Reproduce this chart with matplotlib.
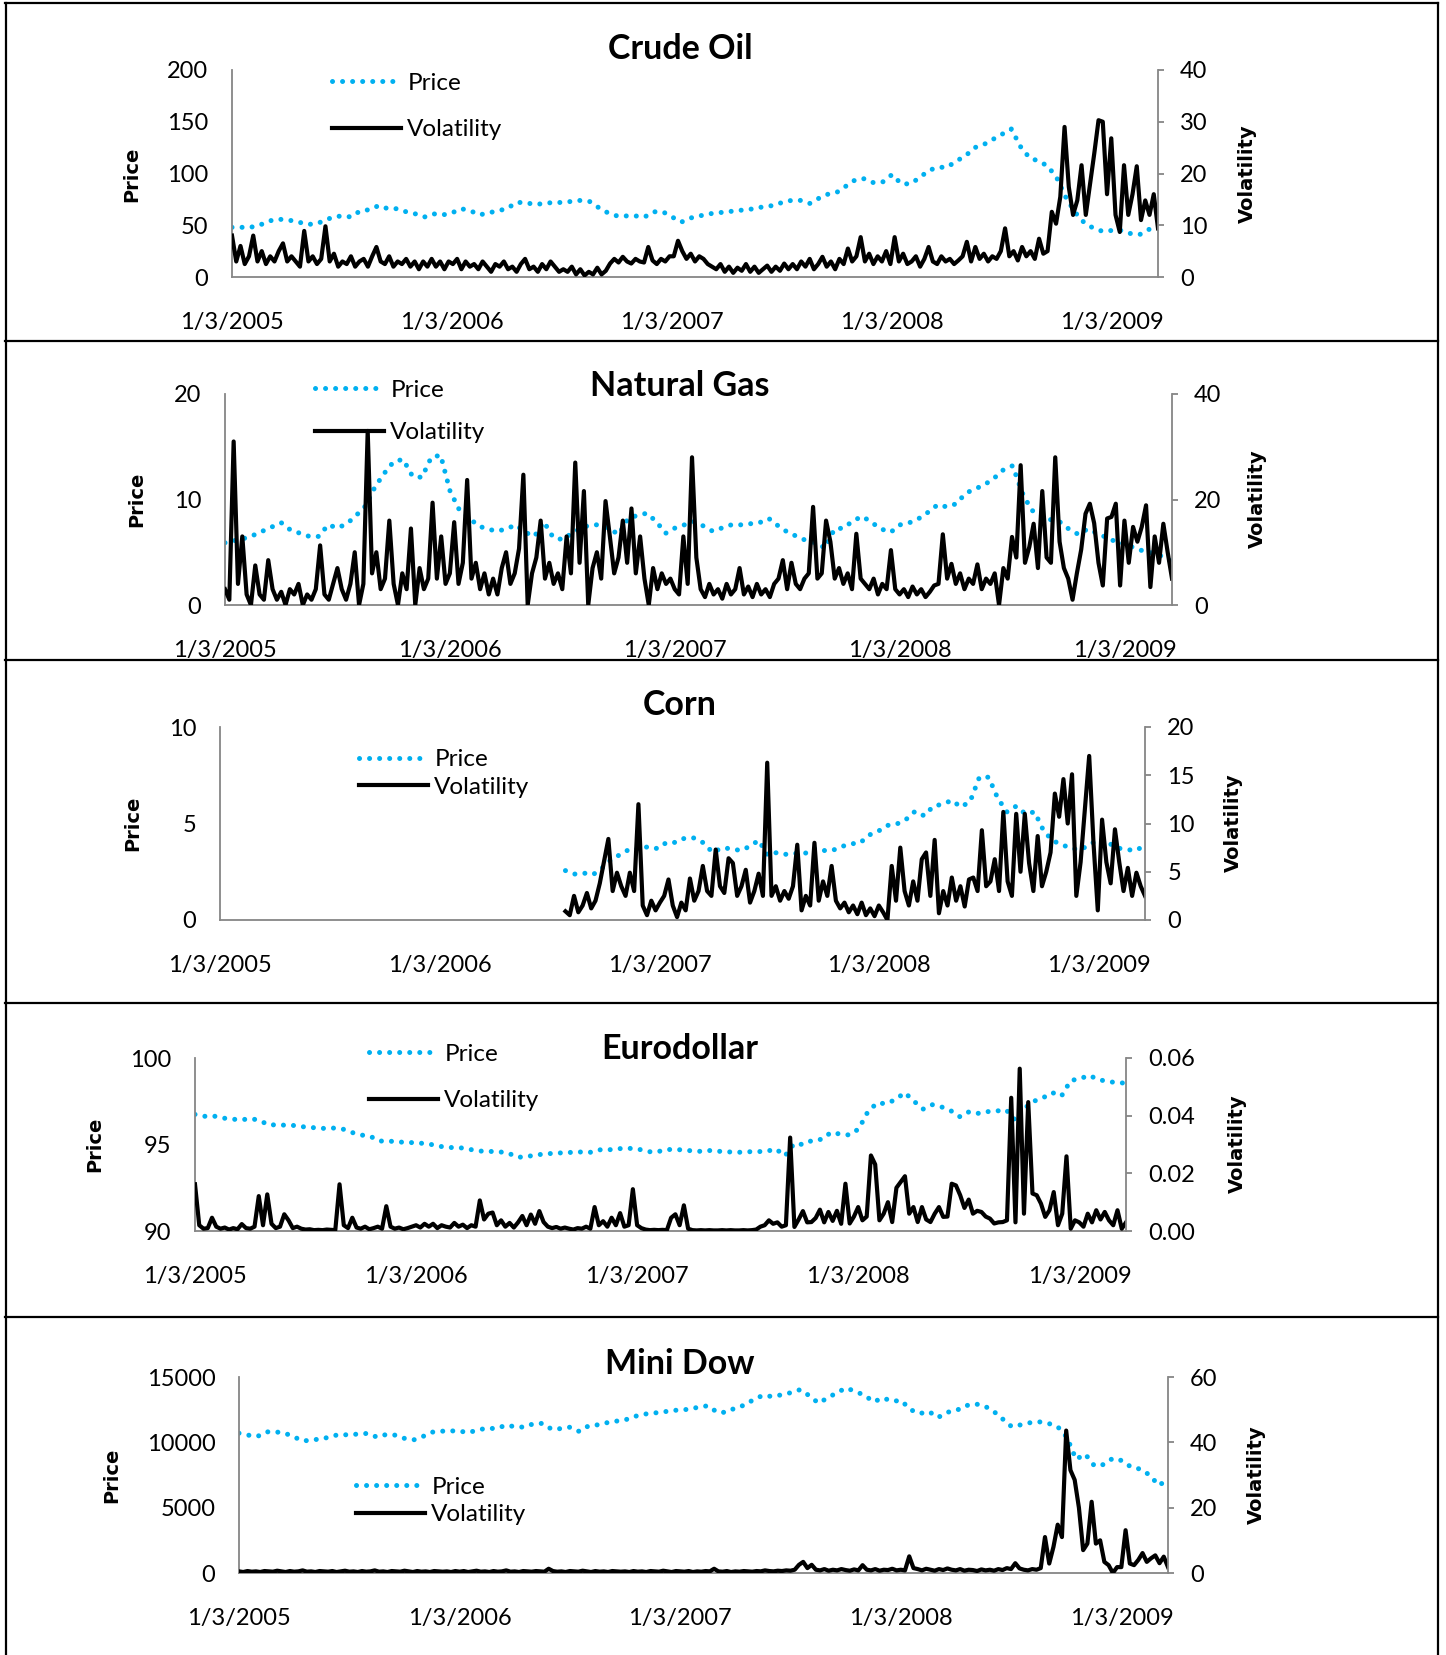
import matplotlib
matplotlib.use("Agg")
import matplotlib.pyplot as plt
import pandas as pd
import numpy as np
from matplotlib.lines import Line2D
import matplotlib.ticker as mticker

plt.rcParams['font.family'] = ['Lato', 'DejaVu Sans']

# ---------------- data ----------------
START, END = '2005-01-03', '2009-03-20'
CORN_START = '2006-07-31'
xtick_dates = ['2005-01-03', '2006-01-03', '2007-01-03', '2008-01-03', '2009-01-03']
xtick_labels = ['1/3/2005', '1/3/2006', '1/3/2007', '1/3/2008', '1/3/2009']

# Crude oil (semi-monthly price, weekly volatility)
crude_price = [48, 48, 48, 50, 54, 56, 55, 54, 51, 51, 54, 58, 59, 58, 64, 65, 69, 66, 66, 63, 61, 58, 61, 60,
               62, 66, 64, 60, 62, 64, 66, 72, 72, 70, 71, 72, 72, 73, 74, 73, 67, 62, 59, 59, 59, 58, 63, 63,
               58, 53, 57, 59, 61, 62, 63, 64, 65, 66, 68, 69, 72, 74, 74, 71, 76, 80, 82, 88, 94, 95, 91, 92,
               99, 90, 90, 96, 103, 106, 106, 112, 117, 125, 128, 133, 138, 143, 126, 115, 112, 107, 95, 76, 62, 52, 47, 44,
               45, 45, 42, 41, 46, 44]
crude_vol = ([8, 3, 6, 2.5, 4, 8, 3, 5, 2.5, 4, 3, 5, 6.5, 3, 4, 3, 2, 8.9, 3, 4, 2.5, 3.5, 9.8, 3, 4.5, 2, 3, 2.5, 4, 2,
              3, 3.5, 2, 4, 5.8, 3, 2.5, 4, 2, 3, 2.5, 3.5, 2, 3, 1.5, 3, 2, 3.5, 2, 3, 1.5, 3] +
             [2.5, 3.5, 1.5, 3, 2, 2.5, 1.5, 3, 2, 1, 2.5, 2, 3, 1.5, 2, 1, 2.5, 3.5, 1.5, 2, 1, 2.5, 1.5, 3, 2, 1,
              1.5, 1, 2, 0.5, 1.5, 0.3, 1, 0.5, 1.8, 0.5, 1.2, 2.6, 3.5, 2.8, 3.9, 3, 2.6, 3.5, 3, 2.8, 5.8, 3.2, 2.5, 3.5, 3, 4] +
             [4, 7, 5, 3.5, 4.5, 3, 4, 3.5, 2.5, 2, 1.5, 2.5, 1, 2, 0.8, 1.8, 1.2, 2.5, 1, 2, 0.8, 1.5, 2.2, 1, 2, 1.2,
              2.6, 1.5, 2.5, 1.5, 3, 2, 3.5, 1.5, 2.5, 3.9, 2, 3, 1.5, 3.5, 2.5, 5.5, 3, 4, 7.7, 3, 4.5, 2.5, 4, 3, 5, 2.5] +
             [7.7, 3, 4.5, 2.5, 3, 4, 2, 3.5, 5.8, 3, 2.5, 4, 3, 3.5, 2.5, 3.2, 4, 6.8, 3, 5.8, 3.5, 4.5, 3, 4, 3.5, 5,
              9.4, 4, 5, 3.2, 5.8, 4, 5, 3.5, 7.4, 4.5, 5, 12.6, 10.3, 15.5, 29, 17.4, 12, 14.8, 21.6, 12, 18, 23.9, 30.3, 30, 16, 26.8] +
             [12, 8.7, 21.6, 12, 16, 21.4, 11, 14.8, 12, 16, 9.4])

# Natural gas
ng_price = ([5.9, 6.1, 6.3, 6.6, 7.0, 7.4, 7.8, 7.1, 6.8, 6.5, 6.5, 7.6, 7.3, 7.7, 8.5, 9.4, 11.2, 12.5, 13.6, 13.8, 12.2, 12.1, 14.0, 14.2] +
            [10.8, 9.0, 8.3, 7.5, 7.2, 7.0, 7.2, 7.6, 6.9, 6.5, 7.9, 6.4, 6.2, 6.8, 7.3, 7.6, 7.6, 7.2, 6.7, 8.2, 8.5, 8.7, 7.9, 6.8] +
            [7.3, 7.6, 7.9, 7.5, 7.0, 7.3, 7.6, 7.6, 7.7, 7.8, 8.2, 7.5, 6.9, 6.5, 6.1, 5.9, 5.4, 7.2, 7.3, 8.0, 8.4, 7.8, 7.2, 6.9] +
            [7.6, 7.8, 8.2, 8.8, 9.5, 9.3, 9.6, 10.6, 11.0, 11.4, 12.0, 12.8, 13.2, 10.7, 9.0, 8.5, 8.1, 7.9, 7.2, 6.7, 7.2, 6.8, 6.4, 6.0] +
            [5.8, 5.4, 5.1, 4.9, 4.6, 4.1])
ng_vol = ([3, 1, 31, 4, 13, 2, 0, 7.5, 2, 1, 8.5, 3, 1, 2.5, 0, 3, 2, 4, 0, 2, 1, 3, 11.3, 2, 1, 4, 7, 3, 1, 4,
           10, 0, 4, 33, 6, 10, 3, 5, 16, 4, 0, 6, 3, 14.5, 0, 7, 3, 5, 19.4, 5, 13, 4] +
          [6, 15.7, 4, 8, 23.7, 5, 8, 3, 6, 2, 5, 2, 7, 10, 4, 6, 10.7, 24.7, 0, 6, 9, 16, 5, 8, 4, 6, 3, 13, 6, 27,
           8, 21.6, 0, 7, 10, 5, 19.7, 13, 6, 9, 16, 8, 18.3, 6, 13, 5, 0, 7, 3, 6, 4, 5] +
          [3, 2, 13, 4, 28, 9, 3, 1.5, 4, 2, 3, 1.2, 4, 2, 3, 7, 2, 3.5, 1.5, 4, 2, 3, 1.5, 4, 5, 8.5, 3, 8, 4, 3,
           5, 6, 18.6, 5, 6, 16, 12, 5, 7, 4, 6, 3, 13.5, 5, 4, 3, 5, 2, 4, 3, 10.4, 3] +
          [2, 3, 1.5, 3.5, 2, 3, 1.5, 2.5, 3.7, 4, 13.4, 5, 7.8, 4, 6, 3, 5, 4, 7.7, 3, 5, 4, 6, 0, 7, 5,
           12.9, 9, 26.5, 8, 11, 15.4, 7, 21.6, 9, 8, 28, 12, 7, 5, 1, 6, 10.5, 17.3, 19.2, 15.5, 8, 3.7, 16.4, 16.7, 19.2, 3.7] +
          [16, 8, 14.8, 12, 14.8, 18.9, 3.4, 13, 8, 15.4, 10, 5])

# Corn (data start mid-2006)
corn_price = [2.56, 2.38, 2.43, 2.35, 2.7, 3.15, 3.4, 3.68, 3.68, 3.8,
              3.7, 4.02, 4.02, 4.25, 4.25, 4.0, 3.5, 3.73, 3.7, 3.6, 3.8, 4.13, 3.35, 3.5, 3.4, 3.45, 3.44, 3.7, 3.6, 3.6, 3.8, 3.95, 3.98, 4.4,
              4.6, 4.9, 4.97, 5.2, 5.63, 5.4, 5.9, 6.0, 6.2, 5.85, 6.15, 7.4, 7.4, 6.3, 5.6, 5.9, 5.5, 5.6, 4.6, 4.1, 3.9, 3.7, 3.65, 3.9,
              4.2, 4.0, 3.73, 3.65, 3.6, 3.87]
corn_vol = [0.9, 0.5, 2.5, 0.8, 1.5, 2.8, 1.2, 2, 3.8, 6.1, 8.4, 3, 4.9, 3.5, 2.5, 4.9, 3, 12, 1.5, 0.5,
            2, 1, 1.8, 2.5, 4.2, 1.5, 0.3, 1.8, 1, 4.3, 2, 3, 5.6, 3, 2.5, 7.3, 3.5, 2.8, 6.4, 5.9,
            2.5, 3.5, 5.2, 1.8, 3, 4.8, 2.5, 16.3, 2.5, 3.5, 2, 3, 2.2, 3.5, 7.8, 1, 2.5, 1.5, 8, 2,
            4, 2.5, 5.6, 2, 1.2, 1.8, 0.8, 1.5, 0.6, 1.8, 0.5, 1.2, 0.4, 1.5, 0.8, 0, 5.6, 2, 7.5, 3,
            1.5, 4, 2, 6.3, 7, 2.5, 8.3, 0.7, 3, 1.5, 4.4, 2, 3.5, 1.4, 4.2, 4.4, 3, 9.3, 3.5, 4,
            6.3, 3, 11.2, 4, 2.5, 11, 5, 11, 5.9, 3, 8.7, 3.5, 5, 7, 13.1, 10.7, 14.6, 10, 15.1, 2.5,
            6, 11.5, 17, 8, 1, 10.4, 6, 3.8, 9.4, 6, 3, 5.4, 2.5, 4.9, 3.5, 2.5]

# Eurodollar
euro_price = ([96.74, 96.63, 96.65, 96.53, 96.47, 96.42, 96.5, 96.4, 96.12, 96.15, 96.1, 96.1, 96.0, 95.97, 95.93, 95.95,
               95.9, 95.7, 95.55, 95.48, 95.2, 95.2, 95.15, 95.12] +
              [95.1, 95.05, 94.97, 94.85, 94.82, 94.8, 94.7, 94.62, 94.6, 94.58, 94.5, 94.26, 94.3, 94.4, 94.45, 94.5,
               94.52, 94.55, 94.57, 94.55, 94.7, 94.7, 94.76, 94.78] +
              [94.75, 94.6, 94.55, 94.7, 94.72, 94.68, 94.63, 94.6, 94.66, 94.6, 94.57, 94.55, 94.58, 94.59, 94.6, 94.75,
               94.34, 95.05, 95.0, 95.25, 95.3, 95.7, 95.6, 95.55] +
              [95.9, 96.9, 97.4, 97.36, 97.6, 98.0, 97.5, 97.05, 97.3, 97.17, 96.95, 96.6, 96.9, 96.8, 96.9, 96.94,
               97.0, 96.4, 97.1, 97.5, 97.7, 98.0, 97.8, 98.7] +
              [98.8, 99.0, 98.75, 98.65, 98.57, 98.55])
euro_vol = ([0.0162, 0.002, 0.0008, 0.001, 0.0046, 0.0015, 0.0008, 0.0012, 0.0005, 0.001, 0.0006, 0.0024, 0.001, 0.0008,
             0.0015, 0.0121, 0.002, 0.0127, 0.0025, 0.001, 0.0015, 0.0058, 0.0037, 0.001, 0.0015, 0.0008, 0.0005, 0.0006,
             0.0003, 0.0004, 0.0003, 0.0005, 0.0004, 0.0003, 0.0162, 0.002, 0.001, 0.0046, 0.0012, 0.0008, 0.0015, 0.0006,
             0.001, 0.0015, 0.0008, 0.0086, 0.0015, 0.0008, 0.0012, 0.0006, 0.001, 0.0015] +
            [0.002, 0.0012, 0.0025, 0.0015, 0.0025, 0.001, 0.002, 0.0015, 0.0012, 0.0028, 0.0015, 0.0022, 0.001, 0.002,
             0.0015, 0.0106, 0.004, 0.006, 0.0064, 0.002, 0.0037, 0.0015, 0.0028, 0.0012, 0.003, 0.0052, 0.002, 0.0057,
             0.0025, 0.0069, 0.0031, 0.0015, 0.001, 0.0014, 0.0008, 0.0012, 0.0008, 0.0005, 0.001, 0.0008, 0.0015, 0.0008,
             0.0083, 0.002, 0.0034, 0.0015, 0.0046, 0.002, 0.0062, 0.0015, 0.002, 0.0145] +
            [0.002, 0.001, 0.0005, 0.0003, 0.0004, 0.0003, 0.0004, 0.0003, 0.0046, 0.0058, 0.002, 0.0089, 0.0008, 0.0003,
             0.0002, 0.0003, 0.0002, 0.0003, 0.0002, 0.0002, 0.0003, 0.0002, 0.0003, 0.0002, 0.0002, 0.0003, 0.0002, 0.0003,
             0.0005, 0.0015, 0.002, 0.0037, 0.0025, 0.003, 0.0015, 0.002, 0.0324, 0.0014, 0.004, 0.0069, 0.003, 0.0031,
             0.0045, 0.0074, 0.003, 0.0066, 0.0035, 0.007, 0.0025, 0.0164, 0.0026, 0.005] +
            [0.0083, 0.0037, 0.005, 0.0262, 0.0231, 0.0037, 0.006, 0.01, 0.0031, 0.015, 0.017, 0.019, 0.006, 0.0083,
             0.0031, 0.0083, 0.004, 0.0031, 0.006, 0.0083, 0.0049, 0.005, 0.0164, 0.0158, 0.0124, 0.008, 0.0109, 0.006,
             0.007, 0.0066, 0.005, 0.0043, 0.0026, 0.003, 0.0031, 0.0037, 0.0462, 0.003, 0.0563, 0.006, 0.0447, 0.013,
             0.0124, 0.0095, 0.0049, 0.0072, 0.0135, 0.002, 0.006, 0.0259, 0.0008, 0.0037] +
            [0.003, 0.0015, 0.006, 0.003, 0.0072, 0.004, 0.0066, 0.0037, 0.002, 0.0072, 0.0008, 0.003])

# Mini Dow
dow_price = ([10700, 10550, 10450, 10800, 10800, 10700, 10400, 10100, 10200, 10250, 10450, 10620, 10550, 10650, 10680, 10400,
              10600, 10550, 10300, 10190, 10450, 10780, 10850, 10880] +
             [10850, 10750, 10960, 11080, 11050, 11310, 11200, 11160, 11420, 11450, 11000, 11050, 11160, 10830, 11260, 11340,
              11500, 11620, 11720, 11980, 12150, 12240, 12300, 12440] +
             [12470, 12540, 12700, 12800, 12290, 12300, 12650, 12850, 13300, 13600, 13500, 13640, 13800, 14030, 13570, 13000,
              13400, 13800, 14160, 13900, 13600, 13100, 13400, 13150] +
             [13200, 12500, 12200, 12360, 11900, 12300, 12440, 12800, 12950, 12800, 12400, 11800, 11200, 11340, 11500, 11570,
              11450, 11200, 10400, 8700, 9100, 8200, 8300, 8780] +
             [8600, 8100, 7950, 7500, 6700, 7170])
dow_vol = ([0.5, 0.3, 0.6, 0.4, 0.5, 0.3, 0.6, 0.5, 0.4, 0.7, 0.5, 0.3, 0.6, 0.4, 0.5, 0.8, 0.4, 0.5, 0.3, 0.6, 0.5, 0.4,
            0.6, 0.3, 0.5, 0.7, 0.4, 0.5, 0.3, 0.6, 0.4, 0.5, 0.8, 0.4, 0.5, 0.3, 0.6, 0.5, 0.4, 0.7, 0.5, 0.3, 0.6, 0.4,
            0.5, 0.3, 0.6, 0.5, 0.4, 0.5, 0.3, 0.6] +
           [0.4, 0.6, 0.3, 0.5, 0.7, 0.4, 0.5, 0.3, 0.6, 0.4, 0.5, 0.8, 0.4, 0.5, 0.3, 0.6, 0.5, 0.4, 0.6, 0.5, 0.4, 1.3,
            0.6, 0.4, 0.5, 0.3, 0.6, 0.5, 0.4, 0.7, 0.5, 0.3, 0.6, 0.4, 0.5, 0.3, 0.6, 0.5, 0.4, 0.5, 0.3, 0.6, 0.4, 0.5,
            0.3, 0.6, 0.5, 0.4, 0.7, 0.5, 0.3, 0.6] +
           [0.5, 0.4, 0.6, 0.3, 0.5, 0.4, 0.6, 0.5, 1.3, 0.5, 0.4, 0.6, 0.3, 0.5, 0.4, 0.6, 0.5, 0.4, 0.6, 0.5, 0.8, 0.6,
            0.5, 0.7, 0.6, 0.8, 0.7, 1.0, 2.5, 3.4, 1.5, 2.5, 1.0, 0.8, 1.2, 0.7, 1.0, 0.8, 1.2, 0.9, 0.7, 1.1, 0.8, 2.4,
            1.0, 0.8, 1.2, 0.7, 1.0, 0.9, 1.3, 0.8] +
           [1.0, 0.8, 5.1, 1.5, 1.2, 0.8, 1.3, 1.0, 0.7, 1.2, 0.9, 1.4, 1.0, 0.8, 1.2, 0.7, 1.0, 0.9, 0.6, 1.1, 0.8, 1.0,
            0.7, 1.2, 0.9, 1.5, 1.2, 3.0, 1.4, 1.0, 0.8, 1.2, 1.0, 1.5, 11, 2.9, 8, 14.8, 11, 43.6, 31.5, 28.5, 20, 7,
            9, 21.8, 9, 10, 3.4, 2.4, 0, 1.8] +
           [1.8, 13.1, 2.9, 2.4, 4, 6.1, 3.4, 4.5, 5.4, 3, 5, 1.8])

# ---------------- layout ----------------
W, H = 1446, 1655
fig = plt.figure(figsize=(W / 100, H / 100), dpi=100)
fig.patch.set_facecolor('white')

BLUE = '#00B0F0'
GRAY = '#868686'
FS = 17
LFS = 17.5


def fx(x):
    return x / W


def fy(y):
    return 1 - y / H


# panel borders
for yy in [3, 341, 660, 1003, 1317]:
    fig.add_artist(Line2D([fx(5), fx(1438)], [fy(yy), fy(yy)], color='black', lw=1.6))
for xx in [6, 1438]:
    fig.add_artist(Line2D([fx(xx), fx(xx)], [fy(3), fy(1655)], color='black', lw=1.6))

panels = [
    dict(title='Crude Oil', box=(232, 70, 1158, 277), title_y=49, price=crude_price, vol=crude_vol, start=START,
         plim=(0, 200), pticks=[0, 50, 100, 150, 200], vlim=(0, 40), vticks=[0, 10, 20, 30, 40], vfmt=None,
         plabel=(132, 174), vlabel=(1247, 174), leg=(332, 106.5), legsp=1.05),
    dict(title='Natural Gas', box=(225, 394, 1172, 605), title_y=386, price=ng_price, vol=ng_vol, start=START,
         plim=(0, 20), pticks=[0, 10, 20], vlim=(0, 40), vticks=[0, 20, 40], vfmt=None,
         plabel=(137, 499), vlabel=(1257, 499), leg=(315, 411.5), legsp=0.9),
    dict(title='Corn', box=(220, 727, 1145, 920), title_y=705, price=corn_price, vol=corn_vol, start=CORN_START,
         plim=(0, 10), pticks=[0, 5, 10], vlim=(0, 20), vticks=[0, 5, 10, 15, 20], vfmt=None,
         plabel=(133, 823), vlabel=(1233, 823), leg=(359, 773.5), legsp=0.28),
    dict(title='Eurodollar', box=(195, 1058, 1126, 1231), title_y=1049, price=euro_price, vol=euro_vol, start=START,
         plim=(90, 100), pticks=[90, 95, 100], vlim=(0, 0.06), vticks=[0, 0.02, 0.04, 0.06], vfmt='%.2f',
         plabel=(95, 1144), vlabel=(1237, 1144), leg=(369, 1077.5), legsp=1.05),
    dict(title='Mini Dow', box=(239, 1377, 1168, 1573), title_y=1364, price=dow_price, vol=dow_vol, start=START,
         plim=(0, 15000), pticks=[0, 5000, 10000, 15000], vlim=(0, 60), vticks=[0, 20, 40, 60], vfmt=None,
         plabel=(112, 1475), vlabel=(1256, 1475), leg=(356, 1501), legsp=0.28),
]

xmin, xmax = pd.Timestamp(START), pd.Timestamp(END)
xt = pd.to_datetime(xtick_dates)

price_style = dict(color=BLUE, lw=3.6, ls=(0, (0.01, 2.0)), dash_capstyle='round')
vol_style = dict(color='black', lw=3.0, solid_joinstyle='round')

for p in panels:
    x0, y0, x1, y1 = p['box']
    ax = fig.add_axes([fx(x0), fy(y1), (x1 - x0) / W, (y1 - y0) / H])
    ax2 = ax.twinx()
    pdates = pd.date_range(p['start'], END, periods=len(p['price']))
    vdates = pd.date_range(p['start'], END, periods=len(p['vol']))
    ax.plot(pdates, p['price'], **price_style)
    ax2.plot(vdates, p['vol'], **vol_style)

    ax.set_xlim(xmin, xmax)
    ax.set_ylim(*p['plim'])
    ax.set_yticks(p['pticks'])
    ax2.set_ylim(*p['vlim'])
    ax2.set_yticks(p['vticks'])
    if p['vfmt']:
        ax2.yaxis.set_major_formatter(mticker.FormatStrFormatter(p['vfmt']))
    ax.set_xticks(xt)
    ax.set_xticklabels(xtick_labels)

    for a in (ax, ax2):
        a.patch.set_visible(False)
        a.spines['top'].set_visible(False)
        for s in ('left', 'right', 'bottom'):
            a.spines[s].set_color(GRAY)
            a.spines[s].set_linewidth(1.3)
    ax.spines['right'].set_visible(False)
    ax2.spines['left'].set_visible(False)
    ax2.spines['bottom'].set_visible(False)

    ax.tick_params(axis='y', length=0, pad=17, labelsize=FS)
    ax.tick_params(axis='x', length=0, pad=25, labelsize=FS)
    ax2.tick_params(axis='y', length=4, width=1.3, color=GRAY, pad=12, labelsize=FS)

    fig.text(fx(680), fy(p['title_y']), p['title'], ha='center', va='center', fontsize=24.5, fontweight='bold')
    fig.text(fx(p['plabel'][0]), fy(p['plabel'][1]), 'Price', rotation=90, ha='center', va='center',
             fontsize=14, fontweight='bold', family='DejaVu Sans')
    fig.text(fx(p['vlabel'][0]), fy(p['vlabel'][1]), 'Volatility', rotation=90, ha='center', va='center',
             fontsize=14, fontweight='bold', family='DejaVu Sans')

    handles = [Line2D([], [], **price_style), Line2D([], [], color='black', lw=3.0)]
    ax2.legend(handles, ['Price', 'Volatility'], loc='center left',
               bbox_to_anchor=(fx(p['leg'][0]), fy(p['leg'][1])), bbox_transform=fig.transFigure,
               frameon=False, handlelength=2.85, handletextpad=0.25, labelspacing=p['legsp'],
               borderpad=0, borderaxespad=0, fontsize=LFS)

fig.savefig('out.png', dpi=100)
